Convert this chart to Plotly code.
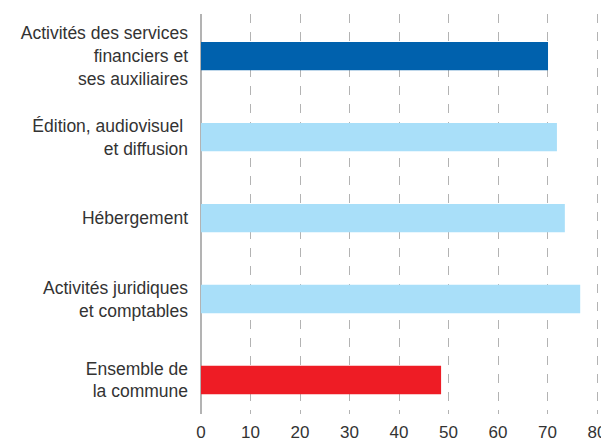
import plotly.graph_objects as go

categories = [
    "Activités des services<br>financiers et<br>ses auxiliaires",
    "Édition, audiovisuel <br>et diffusion",
    "Hébergement",
    "Activités juridiques<br>et comptables",
    "Ensemble de<br>la commune",
]
values = [70.1, 71.9, 73.5, 76.6, 48.5]
colors = ["#0061AD", "#A9DFF9", "#A9DFF9", "#A9DFF9", "#EE1C25"]
x_ticks = [0, 10, 20, 30, 40, 50, 60, 70, 80]

fig = go.Figure(go.Bar(
    y=categories,
    x=values,
    orientation="h",
    marker=dict(color=colors, line=dict(width=0)),
    width=0.35,
))

# the page body has an 8px margin, so the figure is a bit smaller than the window
fig.update_layout(
    width=601,
    height=435,
    margin=dict(l=193, r=9, t=6, b=29),
    paper_bgcolor="white",
    plot_bgcolor="white",
    font=dict(family="Liberation Sans, Arial, sans-serif", color="#333333"),
    showlegend=False,
)

fig.update_xaxes(
    range=[0, 80.6],
    tickvals=x_ticks,
    tickfont=dict(size=17),
    showgrid=True,
    gridcolor="#b3b3b3",
    griddash="dash",
    gridwidth=1,
    zeroline=True,
    zerolinecolor="#b3b3b3",
    zerolinewidth=2,
    showline=False,
    ticks="",
    ticklabelstandoff=6,
    ticklabeloverflow="allow",
    automargin=False,
)

fig.update_yaxes(
    range=[4.42, -0.52],
    tickfont=dict(size=17.5),
    showgrid=False,
    showline=False,
    ticks="",
    ticklabelstandoff=12,
    automargin=False,
)

fig.write_html("out.html")
